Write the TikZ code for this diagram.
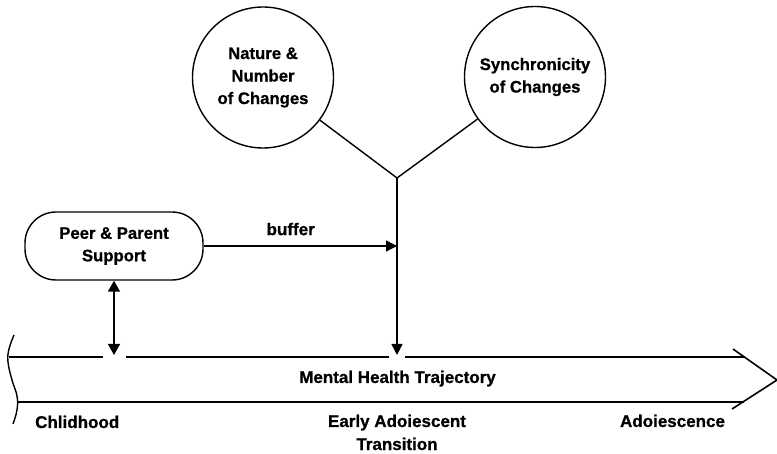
\documentclass[tikz,border=0pt]{standalone}
\usepackage{fontspec}
\setmainfont{Liberation Sans}[BoldFeatures={FakeBold=0.8}]
\usetikzlibrary{arrows.meta}
\tikzset{
  lbl/.style={font=\bfseries\fontsize{17}{22.5}\selectfont, inner sep=0pt, align=center},
  factor/.style={circle, draw, line width=1.4pt, minimum size=141pt, inner sep=0pt,
                 font=\bfseries\fontsize{16.7}{22.5}\selectfont, align=center},
  supportbox/.style={draw, line width=1.4pt, rounded corners=31pt, minimum width=178pt,
                     minimum height=68pt, inner sep=0pt,
                     font=\bfseries\fontsize{16.7}{22.5}\selectfont, align=center},
  link/.style={line width=1.4pt},
  tipped/.style={line width=1.4pt, -{Triangle[length=11pt,width=11pt]}},
  twotipped/.style={line width=1.4pt, {Triangle[length=11pt,width=12pt]}-{Triangle[length=11pt,width=12pt]}},
  rail/.style={line width=1.6pt}
}
\begin{document}
\begin{tikzpicture}[x=1pt,y=-1pt]
\useasboundingbox (0,0) rectangle (777,454);

% influences on the transition
\node[factor] (nature) at (263,77.5) {Nature \&\\Number\\of Changes};
\node[factor] (sync) at (535,77) {Synchronicity\\of Changes};
\coordinate (join) at (397,178);
\draw[link] (nature) -- (join);
\draw[link] (sync) -- (join);

% support box and its links
\node[supportbox] (support) at (114,246) {Peer \& Parent\\Support};
\coordinate (hit) at (397,355);
\coordinate (meet) at (114,355);
\draw[tipped] (join) -- (hit);
\draw[tipped] (support.east) -- node[lbl, above=10pt, pos=0.45] (buf) {buffer} (join |- support.east);
\draw[twotipped] (support.south) -- (meet);

% trajectory arrow body
\draw[rail] (9,357) -- (103,357);
\draw[rail] (126,357) -- (389,357);
\draw[rail] (405,357) -- (745,357);
\draw[rail] (18,402) -- (744,402);
\draw[rail] (733,349) -- (777,380) -- (732,409);
% curved left end
\draw[line width=1.4pt] plot[smooth, tension=0.7] coordinates
  {(14,335) (9,349) (8,362) (12,380) (17,396) (17,410) (13,424)};

% labels
\node[lbl, anchor=base] (traj) at (397.5,383) {Mental Health Trajectory};
\node[lbl, anchor=base west] (child) at (35,428) {Chlidhood};
\node[lbl, anchor=base] (early) at (397,427) {Early Adoiescent};
\node[lbl, anchor=base] (trans) at (397,450) {Transition};
\node[lbl, anchor=base] (adol) at (672.5,427) {Adoiescence};
\end{tikzpicture}
\end{document}
